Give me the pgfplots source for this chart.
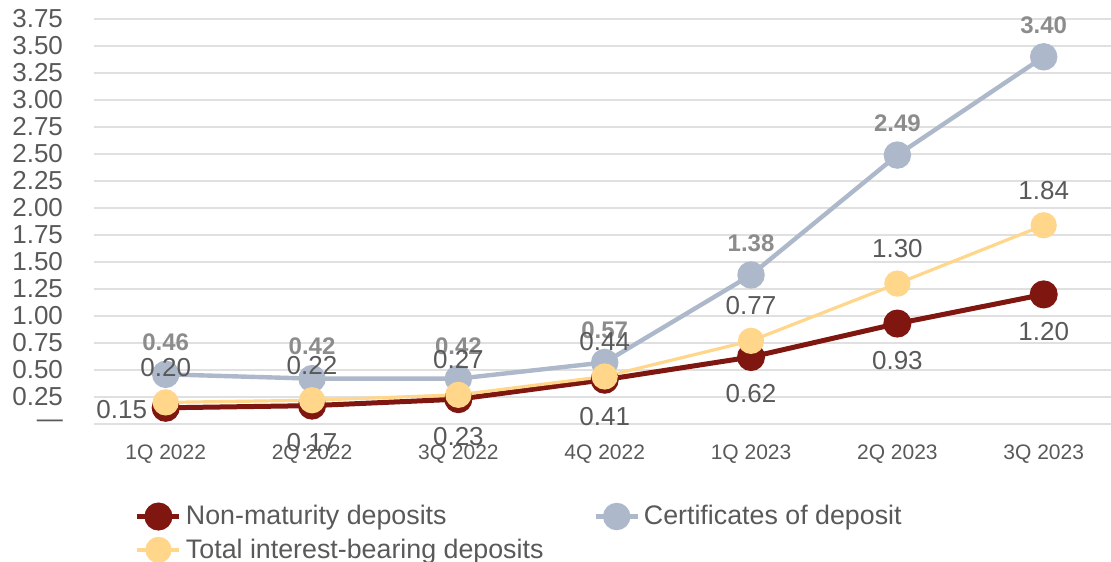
\documentclass[border=0pt]{standalone}
\usepackage{pgfplots}
\pgfplotsset{compat=1.18}
\usepackage{fontspec}
\setmainfont{Liberation Sans}
\definecolor{nmd}{RGB}{128,22,16}
\definecolor{cod}{RGB}{173,185,202}
\definecolor{tib}{RGB}{255,214,138}
\definecolor{txt}{RGB}{89,89,89}
\definecolor{btxt}{RGB}{140,140,140}
\definecolor{grd}{RGB}{224,224,224}
\begin{document}
\begin{tikzpicture}
\path[use as bounding box] (-47pt,-68.5pt) rectangle (508.5pt,212pt);
\begin{axis}[
  at={(0pt,0pt)}, anchor=south west,
  scale only axis, width=508.5pt, height=202.5pt,
  xmin=-0.49, xmax=6.46, ymin=0, ymax=3.75,
  axis line style={draw=none},
  clip=false,
  major tick length=0pt,
  xtick={0,...,6},
  xticklabels={1Q 2022,2Q 2022,3Q 2022,4Q 2022,1Q 2023,2Q 2023,3Q 2023},
  ytick={0,0.25,...,3.75},
  yticklabels={—,0.25,0.50,0.75,1.00,1.25,1.50,1.75,2.00,2.25,2.50,2.75,3.00,3.25,3.50,3.75},
  ymajorgrids, grid style={grd, line width=1pt},
  /pgf/number format/assume math mode=true,
  xticklabel style={font=\fontsize{10.5}{12}\selectfont, text=txt, yshift=-7pt},
  yticklabel style={font=\fontsize{13}{15}\selectfont, text=txt, xshift=-12pt},
  nodes near coords={\pgfmathprintnumber[fixed,fixed zerofill,precision=2]{\pgfplotspointmeta}},
  legend style={at={(0.034,-0.18)}, anchor=north west, draw=none, fill=none,
    font=\fontsize{13.4}{15}\selectfont, text=txt, row sep=1.5pt,
    /tikz/every even column/.style={column sep=23pt}},
  legend columns=2, legend cell align=left,
  legend image code/.code={\draw[mark repeat=2,mark phase=2] plot coordinates {(0pt,0pt) (10.5pt,0pt) (21pt,0pt)};},
]
\addplot[nmd, line width=2.5pt, mark=*, mark size=5.75pt, mark options={draw=none, fill=nmd},
  every node near coord/.append style={anchor=center, yshift=-18.5pt, text=txt, font=\fontsize{13}{15}\selectfont},
  coordinate style/.condition={x==0}{xshift=-22pt, yshift=17.5pt}]
  coordinates {(0,0.15) (1,0.17) (2,0.23) (3,0.41) (4,0.62) (5,0.93) (6,1.20)};
\addlegendentry{Non-maturity deposits}
\addplot[cod, line width=2.2pt, mark=*, mark size=5.75pt, mark options={draw=none, fill=cod},
  every node near coord/.append style={anchor=center, yshift=16pt, text=btxt, font=\fontsize{12}{14}\selectfont\bfseries}]
  coordinates {(0,0.46) (1,0.42) (2,0.42) (3,0.57) (4,1.38) (5,2.49) (6,3.40)};
\addlegendentry{Certificates of deposit}
\addplot[tib, line width=1.6pt, mark=*, mark size=5.75pt, mark options={draw=none, fill=tib},
  every node near coord/.append style={anchor=center, yshift=17.5pt, text=txt, font=\fontsize{13}{15}\selectfont}]
  coordinates {(0,0.20) (1,0.22) (2,0.27) (3,0.44) (4,0.77) (5,1.30) (6,1.84)};
\addlegendentry{Total interest-bearing deposits}
\end{axis}
\end{tikzpicture}
\end{document}
